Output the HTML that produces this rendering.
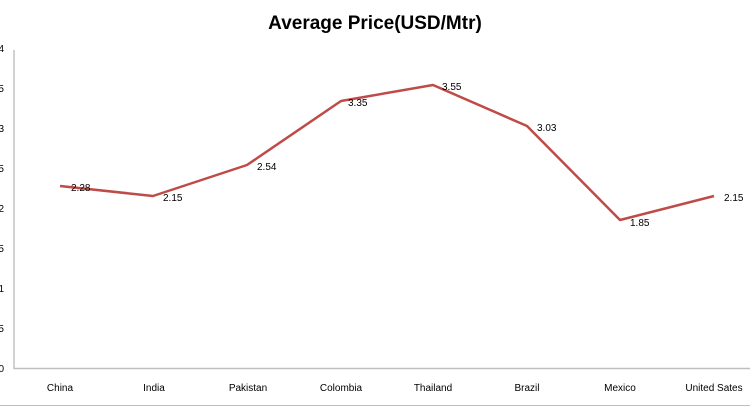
<!DOCTYPE html>
<html><head><meta charset="utf-8"><style>
html,body{margin:0;padding:0;background:#fff;}
svg{display:block;font-family:"Liberation Sans","DejaVu Sans",sans-serif;}
</style></head><body>
<svg width="750" height="408" viewBox="0 0 750 408" xmlns="http://www.w3.org/2000/svg">
<rect width="750" height="408" fill="#fff"/>
<text x="375" y="29" text-anchor="middle" font-size="19" font-weight="bold" fill="#000">Average Price(USD/Mtr)</text>
<line x1="14" y1="50" x2="14" y2="369" stroke="#a6a6a6" stroke-width="1"/>
<line x1="14" y1="368.5" x2="750" y2="368.5" stroke="#bfbfbf" stroke-width="1.5"/>
<line x1="0" y1="405.5" x2="750" y2="405.5" stroke="#bfbfbf" stroke-width="1"/>
<g font-size="10" fill="#000" text-anchor="end">
<text x="4" y="52">4</text><text x="4" y="92">3.5</text><text x="4" y="132">3</text>
<text x="4" y="172">2.5</text><text x="4" y="212">2</text><text x="4" y="252">1.5</text>
<text x="4" y="292">1</text><text x="4" y="332">0.5</text><text x="4" y="372">0</text>
</g>
<g font-size="10" fill="#000" text-anchor="middle">
<text x="60" y="391">China</text><text x="154" y="391">India</text><text x="248" y="391">Pakistan</text>
<text x="341" y="391">Colombia</text><text x="433" y="391">Thailand</text><text x="527" y="391">Brazil</text>
<text x="620" y="391">Mexico</text><text x="714" y="391">United Sates</text>
</g>
<polyline fill="none" stroke="#be4b48" stroke-width="2.5" stroke-linejoin="round"
points="60,186 153,196 247,165 341,101 433,85 527,126 620,220 714,196"/>
<g font-size="10" fill="#000">
<text x="71" y="191">2.28</text><text x="163" y="201">2.15</text><text x="257" y="170">2.54</text>
<text x="348" y="106">3.35</text><text x="442" y="90">3.55</text><text x="537" y="131">3.03</text>
<text x="630" y="226">1.85</text><text x="724" y="201">2.15</text>
</g>
</svg>
</body></html>
